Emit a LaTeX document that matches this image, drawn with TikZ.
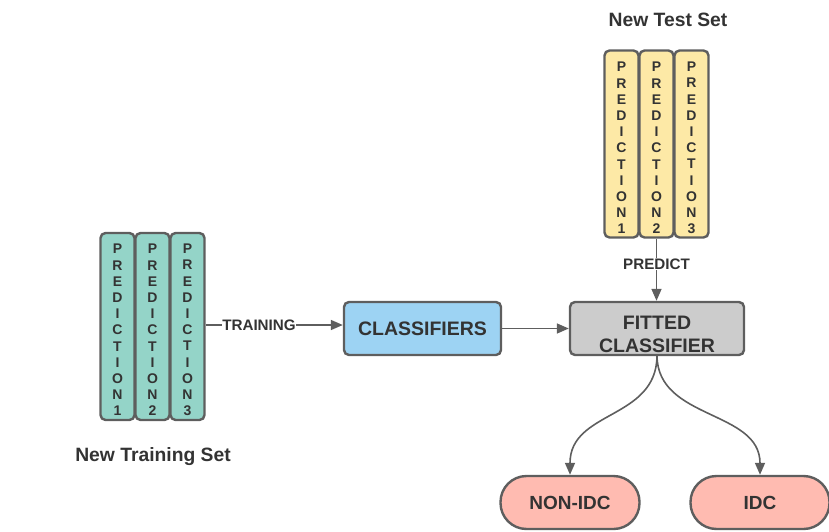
\documentclass[tikz,border=0pt]{standalone}
\usepackage{fontspec}
\setmainfont{Liberation Sans}
\usetikzlibrary{arrows.meta}
\definecolor{edge}{HTML}{5E5E5E}
\definecolor{txt}{HTML}{333333}
\definecolor{teal}{HTML}{94D4C8}
\definecolor{yell}{HTML}{FDE9A6}
\definecolor{blu}{HTML}{9DD3F3}
\definecolor{gry}{HTML}{CCCCCC}
\definecolor{salm}{HTML}{FFBBB1}
\tikzset{
  col/.style={draw=edge, line width=2.4pt, rounded corners=5pt, minimum width=34pt, minimum height=187pt, inner sep=0pt},
  coltext/.style={inner sep=0pt, align=center, text=txt, font=\bfseries\fontsize{14}{16.2}\selectfont},
  box/.style={draw=edge, line width=2.4pt, rounded corners=5pt, minimum height=53pt, inner sep=0pt, align=center, text=txt, font=\bfseries\fontsize{19.5}{23}\selectfont},
  boxtext/.style={inner sep=0pt, align=center, text=txt, font=\bfseries\fontsize{19.5}{23}\selectfont},
  pill/.style={draw=edge, line width=2.4pt, rounded corners=26pt, minimum height=53pt, minimum width=139pt, inner sep=0pt, text=txt, font=\bfseries\fontsize{19}{23}\selectfont, fill=salm},
  ttl/.style={text=txt, font=\bfseries\fontsize{19.3}{23}\selectfont},
  lbl/.style={text=txt, font=\bfseries\fontsize{15.2}{17}\selectfont, inner sep=0.5pt},
  arr/.style={draw=edge, line width=1.6pt, -{Triangle[length=12pt,width=10pt]}},
  ln/.style={draw=edge, line width=1.6pt}
}
\begin{document}
\begin{tikzpicture}[x=1pt,y=-1pt]
\useasboundingbox (0,0) rectangle (829,532);
% training columns
\node[col, fill=teal] (a1) at (117.5,326.5) {};
\node[col, fill=teal] (a2) at (152.5,326.5) {};
\node[col, fill=teal] (a3) at (187.5,326.5) {};
\node[coltext] (a1t) at (117.5,330) {P\\R\\E\\D\\I\\C\\T\\I\\O\\N\\1};
\node[coltext] (a2t) at (152.5,330) {P\\R\\E\\D\\I\\C\\T\\I\\O\\N\\2};
\node[coltext] (a3t) at (187.5,330) {P\\R\\E\\D\\I\\C\\T\\I\\O\\N\\3};
% test columns
\node[col, fill=yell] (b1) at (621.5,144) {};
\node[col, fill=yell] (b2) at (656.5,144) {};
\node[col, fill=yell] (b3) at (691.5,144) {};
\node[coltext] (b1t) at (621.5,148) {P\\R\\E\\D\\I\\C\\T\\I\\O\\N\\1};
\node[coltext] (b2t) at (656.5,148) {P\\R\\E\\D\\I\\C\\T\\I\\O\\N\\2};
\node[coltext] (b3t) at (691.5,148) {P\\R\\E\\D\\I\\C\\T\\I\\O\\N\\3};
% titles
\node[ttl] (t1) at (668,20) {New Test Set};
\node[ttl] (t2) at (153,457) {New Training Set};
% boxes
\node[box, fill=blu, minimum width=157pt] (cls) at (422.5,328.5) {CLASSIFIERS};
\node[box, fill=gry, minimum width=174pt] (fit) at (657,328.5) {};
\node[boxtext] (fitt) at (657,334) {FITTED\\CLASSIFIER};
\node[pill] (non) at (570,502.5) {NON-IDC};
\node[pill] (idc) at (760,502.5) {IDC};
% connectors
\node[lbl] (tr) at (259,325) {TRAINING};
\draw[ln] (a3.east |- tr) -- (tr.west);
\draw[arr] (tr.east) -- (cls.west |- tr);
\draw[arr] (cls.east) -- (fit.west);
\node[lbl] (pr) at (656.5,264) {PREDICT};
\draw[ln] (b2.south) -- (pr.north);
\draw[arr] (pr.south) -- (fit.north -| pr);
\draw[arr] (fit.south) .. controls (656,420) and (570,410) .. (non.north);
\draw[arr] (fit.south) .. controls (658,420) and (760,410) .. (idc.north);
\end{tikzpicture}
\end{document}
